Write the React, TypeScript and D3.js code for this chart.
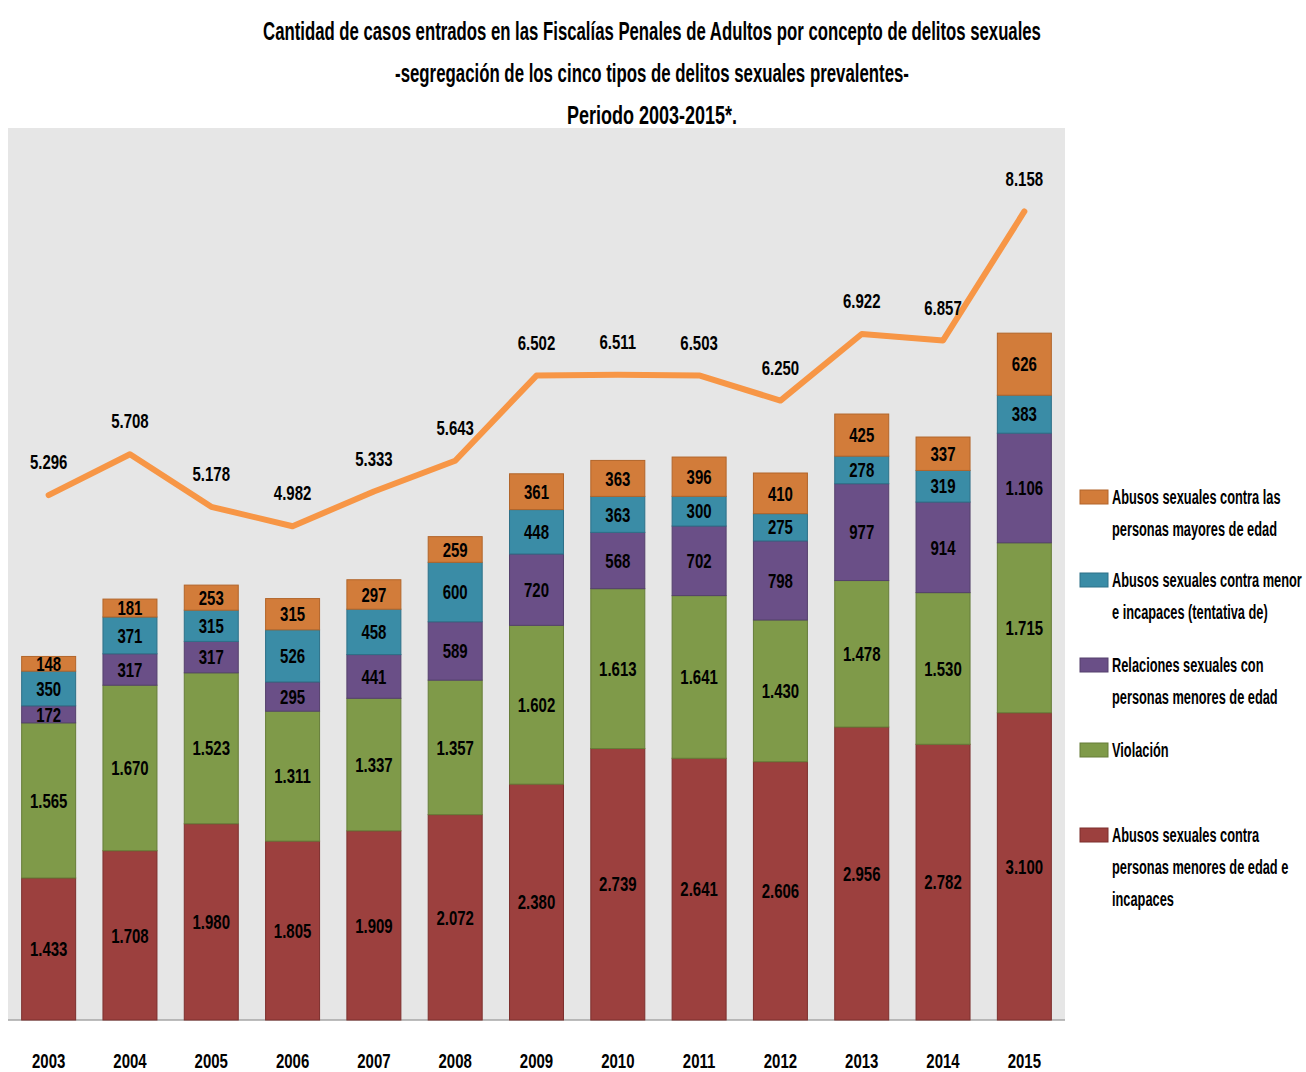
import React, { useLayoutEffect, useRef, useState } from "react";
import * as d3 from "d3";

const years = ["2003","2004","2005","2006","2007","2008","2009","2010","2011","2012","2013","2014","2015"];
const abusosMenores = [1433,1708,1980,1805,1909,2072,2380,2739,2641,2606,2956,2782,3100];
const violacion = [1565,1670,1523,1311,1337,1357,1602,1613,1641,1430,1478,1530,1715];
const relaciones = [172,317,317,295,441,589,720,568,702,798,977,914,1106];
const tentativa = [350,371,315,526,458,600,448,363,300,275,278,319,383];
const mayores = [148,181,253,315,297,259,361,363,396,410,425,337,626];
const totales = [5296,5708,5178,4982,5333,5643,6502,6511,6503,6250,6922,6857,8158];

const seriesNames = [
  "Abusos sexuales contra personas menores de edad e incapaces",
  "Violación",
  "Relaciones sexuales con personas menores de edad",
  "Abusos sexuales contra menor e incapaces (tentativa de)",
  "Abusos sexuales contra las personas mayores de edad",
];
const seriesValues = [abusosMenores, violacion, relaciones, tentativa, mayores];
const seriesFill = ["#9c403e", "#7f9a49", "#6a4f87", "#3a8ca6", "#d27c3a"];
const seriesStroke = ["#7d2f2d", "#667d38", "#54406c", "#2d7088", "#b2652a"];

const legendLines = [
  ["Abusos sexuales contra las", "personas mayores de edad"],
  ["Abusos sexuales contra menor", "e incapaces (tentativa de)"],
  ["Relaciones sexuales con", "personas menores de edad"],
  ["Violación"],
  ["Abusos sexuales contra", "personas menores de edad e", "incapaces"],
];
const legendColorIdx = [4, 3, 2, 1, 0];
const legendY = [497, 580, 665, 750, 835];

const titleLines = [
  "Cantidad de casos entrados en las Fiscalías Penales de Adultos por concepto de delitos sexuales",
  "-segregación de los cinco tipos de delitos sexuales prevalentes-",
  "Periodo 2003-2015*.",
];
const titleWidths = [778, 514, 170];

const FONT = "'Liberation Sans', Arial, sans-serif";

const fmt = d3.formatLocale({ decimal: ",", thousands: ".", grouping: [3], currency: ["", ""] }).format(",d");

function NT({ x, y, s, size, anchor, children }: any) {
  return (
    <text transform={`translate(${x},${y}) scale(${s},1)`} dy="0.36em" textAnchor={anchor || "middle"} fontSize={size} fill="#000">
      {children}
    </text>
  );
}

function TitleLine({ x, y, width, size, children }: any) {
  const ref = useRef<SVGTextElement>(null);
  const [s, setS] = useState(0.6);
  useLayoutEffect(() => {
    if (ref.current) {
      const w = ref.current.getComputedTextLength();
      if (w > 0) setS(width / w);
    }
  }, [width]);
  return (
    <text ref={ref} transform={`translate(${x},${y}) scale(${s},1)`} textAnchor="middle" fontSize={size} fill="#000">
      {children}
    </text>
  );
}

export default function App() {
  const W = 1306, H = 1072;
  const left = 8, right = 1065, top = 128, bottom = 1020;
  const x = d3.scaleBand<string>().domain(years).range([left, right]).paddingInner(0.336).paddingOuter(0.168);
  const y = d3.scaleLinear().domain([0, 9000]).range([bottom, top]);

  const table = years.map((yr, i) => {
    const row: any = { year: yr };
    seriesValues.forEach((s, k) => (row["s" + k] = s[i]));
    return row;
  });
  const stack = d3.stack<any>().keys(seriesValues.map((_, k) => "s" + k))(table);

  const cx = (yr: string) => (x(yr) as number) + x.bandwidth() / 2;
  const line = d3.line<number>().x((_, i) => cx(years[i])).y((d) => y(d));

  return (
    <svg width={W} height={H} style={{ display: "block", position: "absolute", left: 0, top: 0 }} fontFamily={FONT} fontWeight="bold">
      <rect x={0} y={0} width={W} height={H} fill="#ffffff" />
      {titleLines.map((t, i) => (
        <TitleLine key={i} x={652} y={40 + i * 42} width={titleWidths[i]} size={25}>{t}</TitleLine>
      ))}
      <rect x={left} y={top} width={right - left} height={bottom - top} fill="#e6e6e6" />
      <line x1={left} x2={right} y1={bottom} y2={bottom} stroke="#a6a6a6" strokeWidth={1.5} />
      {stack.map((layer, k) => (
        <g key={k}>
          {layer.map((d, i) => (
            <rect key={i} x={x(years[i])} y={y(d[1])} width={x.bandwidth()} height={y(d[0]) - y(d[1])} fill={seriesFill[k]} stroke={seriesStroke[k]} strokeWidth={1} />
          ))}
        </g>
      ))}
      {stack.map((layer, k) => (
        <g key={"l" + k}>
          {layer.map((d, i) => (
            <NT key={i} x={cx(years[i])} y={(y(d[0]) + y(d[1])) / 2} s={0.75} size={20}>{fmt(seriesValues[k][i])}</NT>
          ))}
        </g>
      ))}
      <path d={line(totales) || ""} fill="none" stroke="#f79646" strokeWidth={6} strokeLinejoin="round" strokeLinecap="round" />
      {totales.map((v, i) => (
        <NT key={i} x={cx(years[i])} y={y(v) - 33} s={0.75} size={20}>{fmt(v)}</NT>
      ))}
      {years.map((yr) => (
        <NT key={yr} x={cx(yr)} y={1061} s={0.75} size={20}>{yr}</NT>
      ))}
      {legendLines.map((lines, j) => (
        <g key={j}>
          <rect x={1080} y={legendY[j] - 7} width={28} height={14} fill={seriesFill[legendColorIdx[j]]} stroke={seriesStroke[legendColorIdx[j]]} strokeWidth={1} />
          {lines.map((ln, m) => (
            <NT key={m} x={1112} y={legendY[j] + m * 32} s={0.64} size={20} anchor="start">{ln}</NT>
          ))}
        </g>
      ))}
    </svg>
  );
}
